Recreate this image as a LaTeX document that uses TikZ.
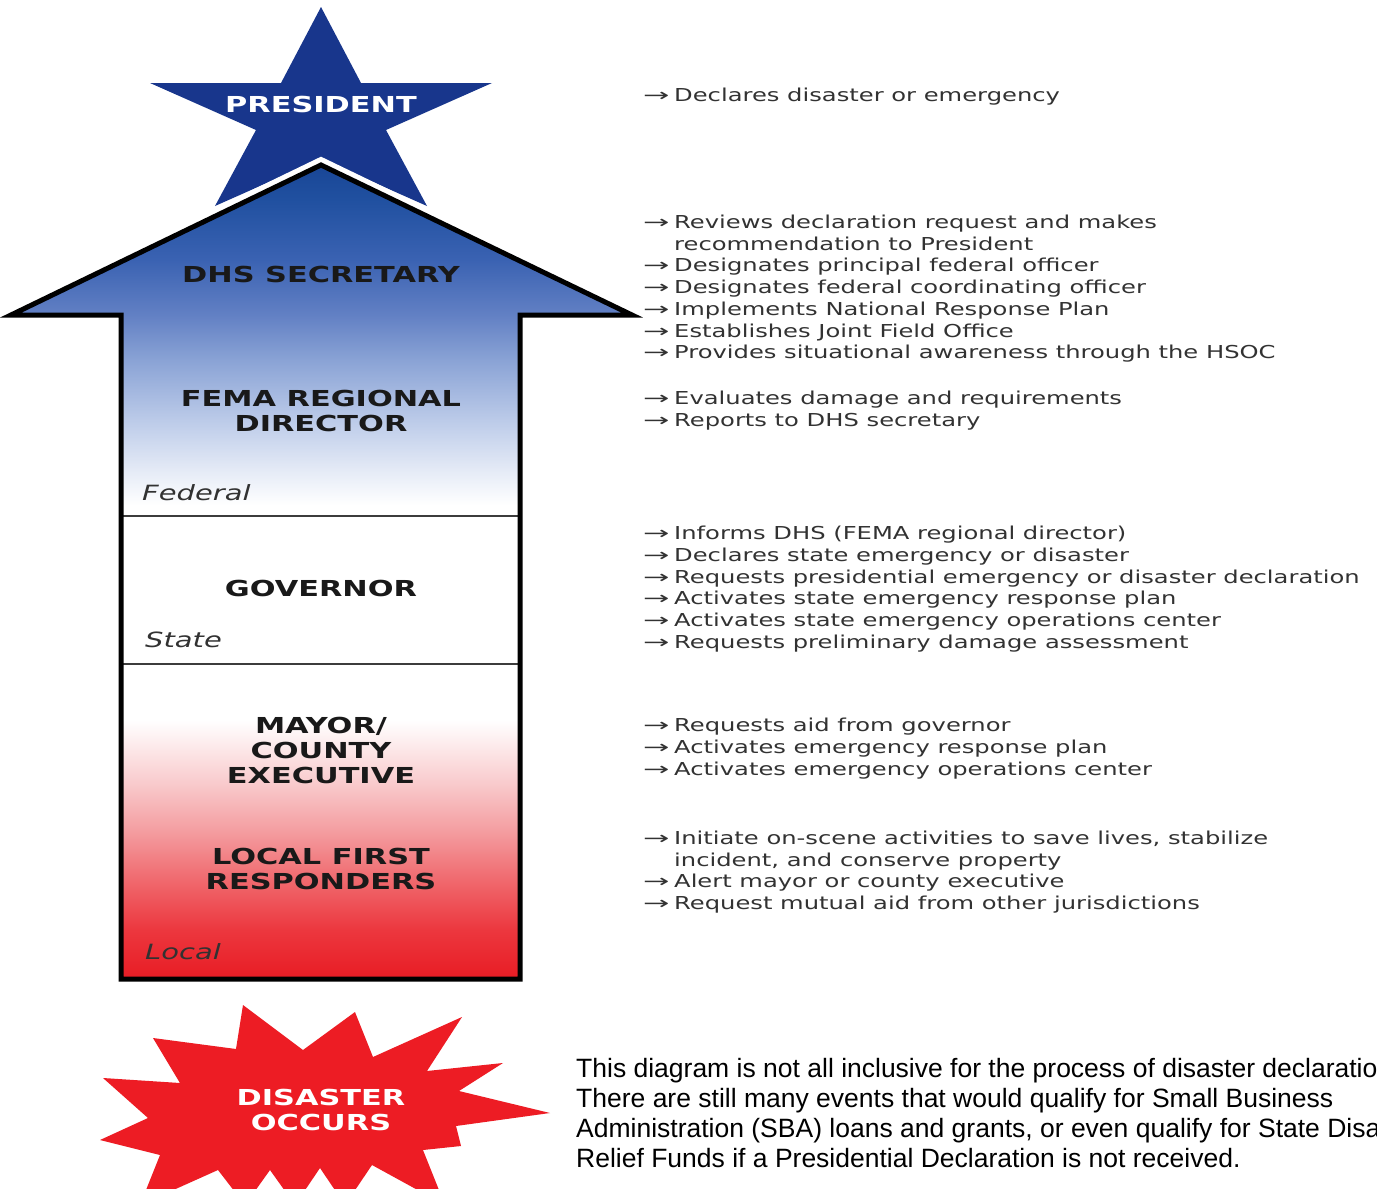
\documentclass[tikz,border=0pt]{standalone}
\usepackage{graphicx}
\usepackage{fontspec}
\setmainfont{Liberation Sans}
\newfontfamily\lblfont[FakeStretch=1.38]{DejaVu Sans}
\newfontfamily\rtfont[FakeStretch=1.36]{DejaVu Sans}

\definecolor{starblue}{RGB}{24,54,140}
\definecolor{burstred}{RGB}{237,28,36}
\definecolor{txtgray}{RGB}{50,50,50}
\definecolor{lblblack}{RGB}{25,25,25}
\definecolor{divgray}{RGB}{60,60,60}
\definecolor{rA}{RGB}{232,28,36}
\definecolor{rB}{RGB}{236,55,62}
\definecolor{rC}{RGB}{240,105,110}
\definecolor{rD}{RGB}{244,158,161}
\definecolor{rE}{RGB}{249,205,207}
\definecolor{bA}{RGB}{228,234,246}
\definecolor{bB}{RGB}{188,203,233}
\definecolor{bC}{RGB}{138,163,213}
\definecolor{bD}{RGB}{98,128,196}
\definecolor{bE}{RGB}{58,98,178}
\definecolor{bF}{RGB}{32,80,160}
\definecolor{bG}{RGB}{25,70,150}

\pgfdeclareverticalshading{arrowshade}{100bp}{color(0bp)=(rA); color(25bp)=(rA); color(28bp)=(rB); color(31.1bp)=(rC); color(34.15bp)=(rD); color(37.2bp)=(rE); color(40.9bp)=(white); color(54.1bp)=(white); color(56.3bp)=(bA); color(59.3bp)=(bB); color(63bp)=(bC); color(65.8bp)=(bD); color(69.2bp)=(bE); color(72.9bp)=(bF); color(75bp)=(bG); color(100bp)=(bG)}

\newcommand\cstack[2]{\vtop{\baselineskip=#1\lineskiplimit=-100pt\lineskip=0pt\halign{\hfil##\hfil\cr#2\crcr}}}
\newcommand\lstack[2]{\vtop{\baselineskip=#1\lineskiplimit=-100pt\lineskip=0pt\halign{##\hfil\cr#2\crcr}}}
\newcommand\arr{\hbox to 31pt{\scalebox{1.3}[1]{→}\hfil}}
\newcommand\ind{\hbox to 31pt{\hfil}}

\tikzset{
  lbl/.style={font=\lblfont\bfseries\fontsize{22}{25}\selectfont, text=lblblack, anchor=base, inner sep=0pt},
  lvl/.style={font=\lblfont\itshape\fontsize{21}{25}\selectfont, text=txtgray, anchor=base west, inner sep=0pt},
  rt/.style={font=\rtfont\fontsize{17.8}{21.7}\selectfont, text=txtgray, anchor=base west, inner sep=0pt},
  para/.style={font=\fontsize{26.5}{30.3}\selectfont, text=black, anchor=base west, inner sep=0pt},
  divider/.style={draw=divgray, line width=2.5pt},
}

\begin{document}
\begin{tikzpicture}[x=1pt,y=-1pt]
\useasboundingbox (0,0) rectangle (1377,1189);
\clip (0,0) rectangle (1377,1189);
\fill[white] (0,0) rectangle (1377,1189);

% star
\fill[starblue] (321,7) -- (361,83) -- (492,83) -- (386,130) -- (427,206) -- (321,159)
  -- (215,206) -- (256,130) -- (150,83) -- (281,83) -- cycle;

% arrow
\coordinate (tip) at (321,165);
\coordinate (rw) at (632,315);
\coordinate (rs) at (520,315);
\coordinate (rb) at (520,979);
\coordinate (lb) at (121,979);
\coordinate (ls) at (121,315);
\coordinate (lw) at (11,315);
\draw[white, line width=15pt, line join=miter] (tip) -- (rw) -- (rs) -- (rb) -- (lb) -- (ls) -- (lw) -- cycle;
\shade[shading=arrowshade] (tip) -- (rw) -- (rs) -- (rb) -- (lb) -- (ls) -- (lw) -- cycle;
\draw[divider] (121,516) -- (520,516);
\draw[divider] (121,664) -- (520,664);
\draw[black, line width=5pt, line join=miter] (tip) -- (rw) -- (rs) -- (rb) -- (lb) -- (ls) -- (lw) -- cycle;

% starburst
\fill[burstred] (243,1005) -- (303,1050) -- (355,1012) -- (373,1057) -- (462,1017) -- (427,1071)
  -- (503,1063) -- (459,1091) -- (550,1113) -- (456,1126) -- (461,1146) -- (423,1150)
  -- (445,1205) -- (372,1165) -- (345,1205) -- (320,1168) -- (295,1205) -- (270,1170)
  -- (245,1205) -- (218,1170) -- (140,1205) -- (160,1155) -- (100,1140) -- (148,1118)
  -- (103,1078) -- (180,1083) -- (153,1038) -- (236,1049) -- cycle;

% labels
\node[lbl, text=white] (pres) at (321,112) {PRESIDENT};
\node[lbl] (dhs) at (321,282) {DHS SECRETARY};
\node[lbl] (fema) at (321,406) {\cstack{25pt}{FEMA REGIONAL\cr DIRECTOR}};
\node[lbl] (gov) at (321,596) {GOVERNOR};
\node[lbl] (mayor) at (321,733) {\cstack{25pt}{MAYOR/\cr COUNTY\cr EXECUTIVE}};
\node[lbl] (lfr) at (321,864) {\cstack{25pt}{LOCAL FIRST\cr RESPONDERS}};
\node[lbl, text=white] (dis) at (321,1105) {\cstack{25pt}{DISASTER\cr OCCURS}};

\node[lvl] (fed) at (142,500.5) {Federal};
\node[lvl] (sta) at (145,647.5) {State};
\node[lvl] (loc) at (145,959.5) {Local};

% right-hand text
\node[rt] (g1) at (643,101.5) {\lstack{21.7pt}{\arr Declares disaster or emergency}};
\node[rt] (g2) at (643,228.5) {\lstack{21.7pt}{\arr Reviews declaration request and makes\cr
  \ind recommendation to President\cr
  \arr Designates principal federal officer\cr
  \arr Designates federal coordinating officer\cr
  \arr Implements National Response Plan\cr
  \arr Establishes Joint Field Office\cr
  \arr Provides situational awareness through the HSOC}};
\node[rt] (g3) at (643,404.5) {\lstack{21.7pt}{\arr Evaluates damage and requirements\cr
  \arr Reports to DHS secretary}};
\node[rt] (g4) at (643,539.5) {\lstack{21.8pt}{\arr Informs DHS (FEMA regional director)\cr
  \arr Declares state emergency or disaster\cr
  \arr Requests presidential emergency or disaster declaration\cr
  \arr Activates state emergency response plan\cr
  \arr Activates state emergency operations center\cr
  \arr Requests preliminary damage assessment}};
\node[rt] (g5) at (643,731.5) {\lstack{22pt}{\arr Requests aid from governor\cr
  \arr Activates emergency response plan\cr
  \arr Activates emergency operations center}};
\node[rt] (g6) at (643,844.5) {\lstack{21.7pt}{\arr Initiate on-scene activities to save lives, stabilize\cr
  \ind incident, and conserve property\cr
  \arr Alert mayor or county executive\cr
  \arr Request mutual aid from other jurisdictions}};

% note
\node[para] (note) at (576,1077) {\lstack{30.3pt}{This diagram is not all inclusive for the process of disaster declaration.\cr
  There are still many events that would qualify for Small Business\cr
  Administration (SBA) loans and grants, or even qualify for State Disaster\cr
  Relief Funds if a Presidential Declaration is not received.}};
\end{tikzpicture}
\end{document}
